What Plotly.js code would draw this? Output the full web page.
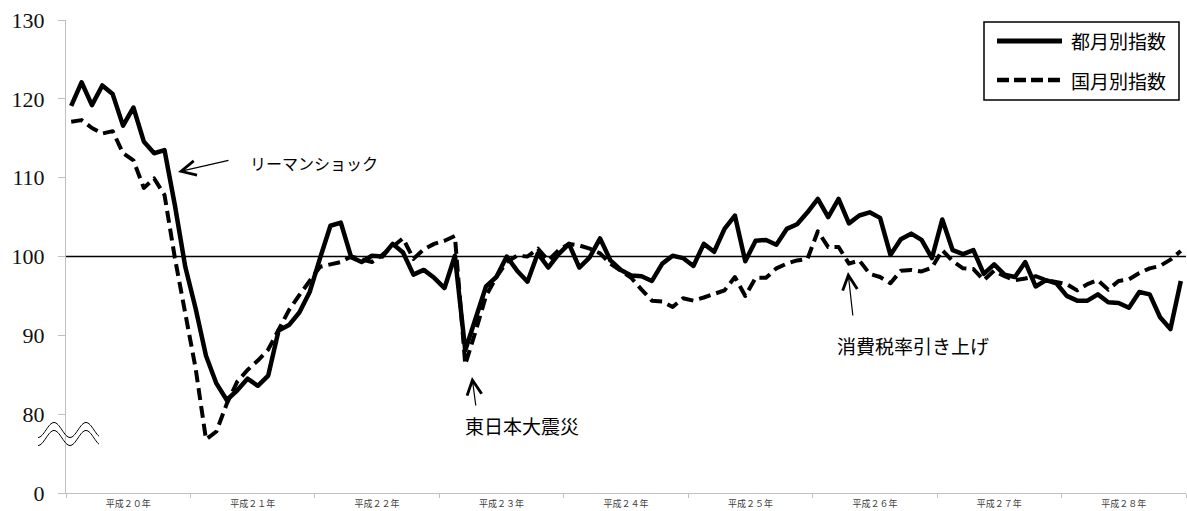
<!DOCTYPE html>
<html>
<head>
<meta charset="utf-8">
<script src="https://cdn.plot.ly/plotly-3.0.1.min.js"></script>
<style>
html,body{margin:0;padding:0;background:#fff;}
#chart{width:1187px;height:511px;}
.scatterlayer .js-line{stroke-linejoin:round;}
</style>
</head>
<body>
<div id="chart"></div>
<script>
// ---- data ----
const yearLabels = ['平成２０年','平成２１年','平成２２年','平成２３年','平成２４年','平成２５年','平成２６年','平成２７年','平成２８年'];
const monthNames = ['1月','2月','3月','4月','5月','6月','7月','8月','9月','10月','11月','12月'];
const months = [];
yearLabels.forEach(function (yl) { monthNames.forEach(function (m) { months.push(yl + m); }); });

const seriesNames = ['都月別指数', '国月別指数'];

// 都月別指数 (solid)
const tokyoIndex = [
  119.1, 122.1, 119.2, 121.7, 120.6, 116.6, 118.9, 114.6, 113.1, 113.5, 106.5, 98.7,
  93.4, 87.4, 83.9, 81.8, 83.0, 84.5, 83.6, 84.9, 90.6, 91.3, 92.9, 95.5,
  99.8, 103.9, 104.3, 99.9, 99.3, 100.1, 100.0, 101.6, 100.5, 97.7, 98.3, 97.3,
  96.0, 100.1, 88.1, 92.3, 96.2, 97.4, 100.0, 98.2, 96.8, 100.4, 98.6, 100.3,
  101.6, 98.6, 99.9, 102.3, 99.5, 98.3, 97.6, 97.5, 96.9, 99.1, 100.1, 99.8,
  98.8, 101.6, 100.6, 103.5, 105.2, 99.4, 102.0, 102.1, 101.5, 103.5, 104.1, 105.6,
  107.3, 105.0, 107.3, 104.2, 105.2, 105.6, 104.9, 100.2, 102.2, 102.9, 102.1, 99.8,
  104.7, 100.8, 100.3, 100.8, 97.8, 99.0, 97.7, 97.4, 99.3, 96.2, 97.0, 96.6,
  95.0, 94.4, 94.4, 95.2, 94.2, 94.1, 93.5, 95.5, 95.2, 92.3, 90.8, 96.9
];

// 国月別指数 (dashed)
const nationalIndex = [
  117.1, 117.3, 116.3, 115.6, 115.9, 113.1, 112.2, 108.7, 109.9, 107.8, 99.8, 93.0,
  85.8, 76.8, 77.8, 81.3, 84.1, 85.6, 86.8, 88.2, 90.6, 93.2, 95.1, 97.0,
  98.7, 99.0, 99.3, 100.0, 99.7, 99.3, 100.2, 101.2, 102.3, 99.7, 100.9, 101.6,
  102.0, 102.6, 86.3, 90.5, 95.0, 97.4, 99.3, 100.1, 100.0, 101.0, 99.5, 100.8,
  101.6, 101.4, 101.0, 100.4, 99.1, 98.2, 97.3, 95.8, 94.4, 94.3, 93.6, 94.7,
  94.4, 94.8, 95.2, 95.7, 97.4, 95.0, 97.3, 97.3, 98.5, 99.1, 99.5, 99.7,
  103.2, 101.2, 101.2, 99.1, 99.5, 97.8, 97.4, 96.6, 98.2, 98.3, 98.1, 98.6,
  100.8, 99.4, 98.5, 98.4, 97.0, 98.2, 97.5, 97.0, 97.2, 97.5, 97.0, 96.8,
  96.5, 95.7, 96.5, 97.0, 95.8, 96.9, 97.1, 97.9, 98.5, 98.8, 99.6, 100.7
];

// y axis: broken axis, bottom tick labelled 0
const yTickValues = [70, 80, 90, 100, 110, 120, 130];
const yTickLabels = ['0', '80', '90', '100', '110', '120', '130'];
const baselineValue = 100;

const eventLabels = ['リーマンショック', '東日本大震災', '消費税率引き上げ'];

// ---- layout helpers (pixels -> paper) ----
const W = 1187, H = 511, ML = 66, MR = 1, MT = 20, MB = 18;
const PW = W - ML - MR, PH = H - MT - MB;
function fx(px) { return (px - ML) / PW; }
function fy(py) { return (H - MB - py) / PH; }

const idx = months.map(function (m, i) { return i; });
const yearCenters = yearLabels.map(function (y, i) { return i * 12 + 5.5; });
const yearBounds = yearLabels.map(function (y, i) { return i * 12 - 0.5; }).concat([yearLabels.length * 12 - 0.5]);

const traces = [
  { x: idx, y: nationalIndex, text: months, name: seriesNames[1], mode: 'lines', showlegend: false,
    line: { color: '#000', width: 4, dash: '12px,6px' }, hoverinfo: 'text+y' },
  { x: idx, y: tokyoIndex, text: months, name: seriesNames[0], mode: 'lines', showlegend: false,
    line: { color: '#000', width: 4.5 }, hoverinfo: 'text+y' }
];

function wave(x0, x1, yc, amp, peak, period) {
  let d = '';
  for (let px = x0; px <= x1 + 0.01; px += 1) {
    const py = yc - amp * Math.cos(2 * Math.PI * (px - peak) / period);
    d += (d ? 'L' : 'M') + fx(px).toFixed(5) + ',' + fy(py).toFixed(5);
  }
  return d;
}

const shapes = [
  { type: 'line', xref: 'paper', yref: 'y', x0: 0, x1: 1, y0: baselineValue, y1: baselineValue,
    line: { color: '#000', width: 1.3 }, layer: 'below' },
  // broken-axis mark
  { type: 'path', xref: 'paper', yref: 'paper', path: wave(38, 99, 430, 7.5, 54, 32), line: { color: '#000', width: 1 } },
  { type: 'path', xref: 'paper', yref: 'paper', path: wave(38, 99, 438, 7.5, 54, 32), line: { color: '#000', width: 1 } },
  // legend box
  { type: 'rect', xref: 'paper', yref: 'paper', x0: fx(984), x1: fx(1179), y0: fy(22), y1: fy(100),
    line: { color: '#000', width: 1.5 }, fillcolor: '#fff', layer: 'above' },
  { type: 'line', xref: 'paper', yref: 'paper', x0: fx(997), x1: fx(1062), y0: fy(41), y1: fy(41),
    line: { color: '#000', width: 5 } },
  { type: 'line', xref: 'paper', yref: 'paper', x0: fx(997), x1: fx(1062), y0: fy(80), y1: fy(80),
    line: { color: '#000', width: 4.5, dash: '12px,5px' } }
];

const textFont = { family: 'Noto Sans CJK JP, Noto Sans', color: '#000' };
function txt(s, px, py, size, anchor) {
  return { text: s, xref: 'paper', yref: 'paper', x: fx(px), y: fy(py), showarrow: false,
    xanchor: anchor || 'center', yanchor: 'middle',
    font: Object.assign({}, textFont, { size: size }) };
}
function arrow(tipX, tipY, tailX, tailY) {
  return { text: '', xref: 'paper', yref: 'paper', x: fx(tipX), y: fy(tipY),
    ax: tailX - tipX, ay: tailY - tipY, showarrow: true, arrowhead: 5, arrowsize: 2.4,
    arrowwidth: 1.2, arrowcolor: '#000', standoff: 0, startstandoff: 0 };
}

const annotations = [
  txt(eventLabels[0], 248, 163, 16, 'left'),
  arrow(178, 172, 230, 160),
  txt(eventLabels[1], 463, 425, 19, 'left'),
  arrow(472, 377, 476, 407),
  txt(eventLabels[2], 835, 345, 19, 'left'),
  arrow(848, 272, 853, 317),
  txt(seriesNames[0], 1069, 41, 19, 'left'),
  txt(seriesNames[1], 1069, 80, 19, 'left')
];

const layout = {
  width: W, height: H,
  margin: { l: ML, r: MR, t: MT, b: MB, pad: 0 },
  paper_bgcolor: '#fff', plot_bgcolor: '#fff',
  showlegend: false,
  xaxis: {
    range: [-0.5, yearLabels.length * 12 - 0.5], showline: true, linecolor: '#bfbfbf', linewidth: 1,
    showgrid: false, zeroline: false, tickmode: 'array', tickvals: yearCenters, ticktext: yearLabels,
    ticks: '', tickfont: { family: 'Noto Sans CJK JP', size: 9, color: '#404040' }, ticklabelstandoff: 2,
    minor: { tickmode: 'array', tickvals: yearBounds, ticks: 'outside', ticklen: 4, tickcolor: '#bfbfbf', showgrid: false },
    fixedrange: true
  },
  yaxis: {
    range: [yTickValues[0], yTickValues[yTickValues.length - 1]], showline: true, linecolor: '#bfbfbf', linewidth: 1,
    showgrid: false, zeroline: false, tickmode: 'array', tickvals: yTickValues, ticktext: yTickLabels,
    ticks: 'outside', ticklen: 7, tickcolor: '#bfbfbf',
    tickfont: { family: 'Liberation Serif', size: 22, color: '#111' }, ticklabelstandoff: 9,
    fixedrange: true
  },
  shapes: shapes,
  annotations: annotations
};

Plotly.newPlot('chart', traces, layout, { displayModeBar: false, staticPlot: true });
</script>
</body>
</html>
